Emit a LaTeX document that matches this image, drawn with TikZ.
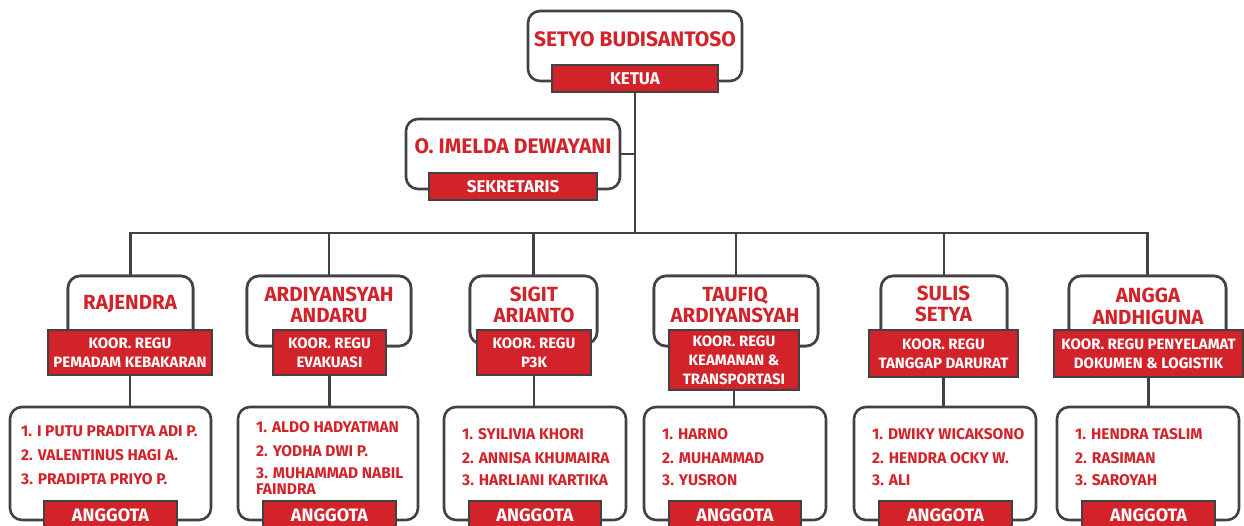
\documentclass[tikz,border=0pt]{standalone}
\usepackage{fontspec}
\setmainfont{Fira Sans}
\definecolor{brred}{HTML}{D2232A}
\definecolor{lngray}{HTML}{424242}
\begin{document}
\begin{tikzpicture}[x=1pt,y=-1pt,
  namebox/.style={draw=lngray,line width=2.6pt,fill=white,rounded corners=12pt,inner sep=0pt},
  rolebox/.style={draw=lngray,line width=2.6pt,fill=brred,inner sep=0pt,text=white,font=\bfseries\fontsize{15}{19}\selectfont,align=center},
  bigname/.style={text=brred,font=\bfseries\fontsize{21}{22}\selectfont,inner sep=0pt,anchor=base},
  colname/.style={text=brred,font=\bfseries\fontsize{20.5}{21}\selectfont,inner sep=0pt,anchor=base},
  memline/.style={text=brred,font=\bfseries\fontsize{15.5}{17}\selectfont,inner sep=0pt,anchor=base west},
  conn/.style={draw=lngray,line width=2.6pt},
  agbox/.style={draw=lngray,line width=2.6pt,fill=brred,inner sep=0pt},
  agtext/.style={text=white,font=\bfseries\fontsize{18}{19}\selectfont,inner sep=0pt,anchor=base}
]
\useasboundingbox (0,0) rectangle (1244,526);
% ---- top level
\node[namebox,minimum width=214pt,minimum height=70pt] (ketuabox) at (635,46) {};
\node[rolebox,minimum width=166pt,minimum height=27pt,font=\bfseries\fontsize{17}{19}\selectfont] (ketua) at (635,78.5) {KETUA};
\node[bigname] (ketuaname) at (635,47) {SETYO BUDISANTOSO};
\node[namebox,minimum width=214pt,minimum height=70pt] (sekbox) at (513,154) {};
\node[rolebox,minimum width=168pt,minimum height=27pt,font=\bfseries\fontsize{17}{19}\selectfont] (sek) at (513,186.5) {SEKRETARIS};
\node[bigname] (sekname) at (513,154) {O. IMELDA DEWAYANI};
\coordinate (bus) at (635,233);
% ---- name boxes (columns)
\node[namebox,minimum width=125pt,minimum height=72pt] (n1) at (130.5,312) {};
\node[namebox,minimum width=164pt,minimum height=70pt] (n2) at (329,311) {};
\node[namebox,minimum width=127pt,minimum height=68pt] (n3) at (533.5,310) {};
\node[namebox,minimum width=164pt,minimum height=70pt] (n4) at (736,311) {};
\node[namebox,minimum width=126pt,minimum height=72pt] (n5) at (944,312) {};
\node[namebox,minimum width=157pt,minimum height=72pt] (n6) at (1147.5,312) {};
% connectors
\draw[conn] (ketua.south) -- (bus);
\draw[conn] (sekbox.east) -- (sekbox.east -| ketua.south);
\draw[conn] (n1.north) |- (bus) -| (n6.north);
\draw[conn] (n2.north) -- (n2.north |- bus);
\draw[conn] (n3.north) -- (n3.north |- bus);
\draw[conn] (n4.north) -- (n4.north |- bus);
\draw[conn] (n5.north) -- (n5.north |- bus);
% redraw name boxes over line ends
\node[namebox,minimum width=125pt,minimum height=72pt] at (130.5,312) {};
\node[namebox,minimum width=164pt,minimum height=70pt] at (329,311) {};
\node[namebox,minimum width=127pt,minimum height=68pt] at (533.5,310) {};
\node[namebox,minimum width=164pt,minimum height=70pt] at (736,311) {};
\node[namebox,minimum width=126pt,minimum height=72pt] at (944,312) {};
\node[namebox,minimum width=157pt,minimum height=72pt] at (1147.5,312) {};
% names
\node[colname] (t1) at (130,310) {RAJENDRA};
\node[colname] (t2a) at (329,302) {ARDIYANSYAH};
\node[colname] (t2b) at (329,323) {ANDARU};
\node[colname] (t3a) at (534,302) {SIGIT};
\node[colname] (t3b) at (534,323) {ARIANTO};
\node[colname] (t4a) at (735,302) {TAUFIQ};
\node[colname] (t4b) at (735,323) {ARDIYANSYAH};
\node[colname] (t5a) at (943.5,301) {SULIS};
\node[colname] (t5b) at (943.5,322) {SETYA};
\node[colname] (t6a) at (1148,303) {ANGGA};
\node[colname] (t6b) at (1148,324) {ANDHIGUNA};
% member boxes
\node[namebox,minimum width=201pt,minimum height=113pt] (m1) at (110.5,463.5) {};
\node[namebox,minimum width=180pt,minimum height=113pt] (m2) at (328,463.5) {};
\node[namebox,minimum width=182pt,minimum height=113pt] (m3) at (535,463.5) {};
\node[namebox,minimum width=182pt,minimum height=113pt] (m4) at (735,463.5) {};
\node[namebox,minimum width=182pt,minimum height=113pt] (m5) at (945,463.5) {};
\node[namebox,minimum width=182pt,minimum height=113pt] (m6) at (1148,463.5) {};
% role labels
\node[rolebox,minimum width=164pt,minimum height=45pt] (r1) at (130,352.5) {KOOR. REGU\\PEMADAM KEBAKARAN};
\node[rolebox,minimum width=113pt,minimum height=45pt] (r2) at (329.5,352.5) {KOOR. REGU\\EVAKUASI};
\node[rolebox,minimum width=114pt,minimum height=45pt] (r3) at (534,352.5) {KOOR. REGU\\P3K};
\node[rolebox,minimum width=130pt,minimum height=60pt] (r4) at (734,360) {KOOR. REGU\\KEAMANAN \&\\TRANSPORTASI};
\node[rolebox,minimum width=149pt,minimum height=47pt] (r5) at (943.5,353.5) {KOOR. REGU\\TANGGAP DARURAT};
\node[rolebox,minimum width=189pt,minimum height=47pt] (r6) at (1148.5,353.5) {KOOR. REGU PENYELAMAT\\DOKUMEN \& LOGISTIK};
% role -> members
\draw[conn] (r1.south) -- (r1.south |- m1.north);
\draw[conn] (r2.south) -- (r2.south |- m2.north);
\draw[conn] (r3.south) -- (r3.south |- m3.north);
\draw[conn] (r4.south) -- (r4.south |- m4.north);
\draw[conn] (r5.south) -- (r5.south |- m5.north);
\draw[conn] (r6.south) -- (r6.south |- m6.north);
% member texts
\node[memline] (l1a) at (21,436) {1. I PUTU PRADITYA ADI P.};
\node[memline] (l1b) at (21,460) {2. VALENTINUS HAGI A.};
\node[memline] (l1c) at (21,484) {3. PRADIPTA PRIYO P.};
\node[memline] (l2a) at (256,432) {1. ALDO HADYATMAN};
\node[memline] (l2b) at (256,456) {2. YODHA DWI P.};
\node[memline] (l2c) at (256,478) {3. MUHAMMAD NABIL};
\node[memline] (l2d) at (256,494) {FAINDRA};
\node[memline] (l3a) at (462,439) {1. SYILIVIA KHORI};
\node[memline] (l3b) at (462,463) {2. ANNISA KHUMAIRA};
\node[memline] (l3c) at (462,485) {3. HARLIANI KARTIKA};
\node[memline] (l4a) at (662,439) {1. HARNO};
\node[memline] (l4b) at (662,463) {2. MUHAMMAD};
\node[memline] (l4c) at (662,485) {3. YUSRON};
\node[memline] (l5a) at (872,439) {1. DWIKY WICAKSONO};
\node[memline] (l5b) at (872,463) {2. HENDRA OCKY W.};
\node[memline] (l5c) at (872,485) {3. ALI};
\node[memline] (l6a) at (1075,439) {1. HENDRA TASLIM};
\node[memline] (l6b) at (1075,463) {2. RASIMAN};
\node[memline] (l6c) at (1075,485) {3. SAROYAH};
% anggota labels
\node[agbox,minimum width=133pt,minimum height=30pt] (a1) at (110.5,516) {};
\node[agbox,minimum width=133pt,minimum height=30pt] (a2) at (329.5,516) {};
\node[agbox,minimum width=132pt,minimum height=30pt] (a3) at (535,516) {};
\node[agbox,minimum width=132pt,minimum height=30pt] (a4) at (735,516) {};
\node[agbox,minimum width=133pt,minimum height=30pt] (a5) at (945.5,516) {};
\node[agbox,minimum width=133pt,minimum height=30pt] (a6) at (1148.5,516) {};
\node[agtext] (g1) at (110.5,521) {ANGGOTA};
\node[agtext] (g2) at (329.5,521) {ANGGOTA};
\node[agtext] (g3) at (535,521) {ANGGOTA};
\node[agtext] (g4) at (735,521) {ANGGOTA};
\node[agtext] (g5) at (945.5,521) {ANGGOTA};
\node[agtext] (g6) at (1148.5,521) {ANGGOTA};
\end{tikzpicture}
\end{document}
